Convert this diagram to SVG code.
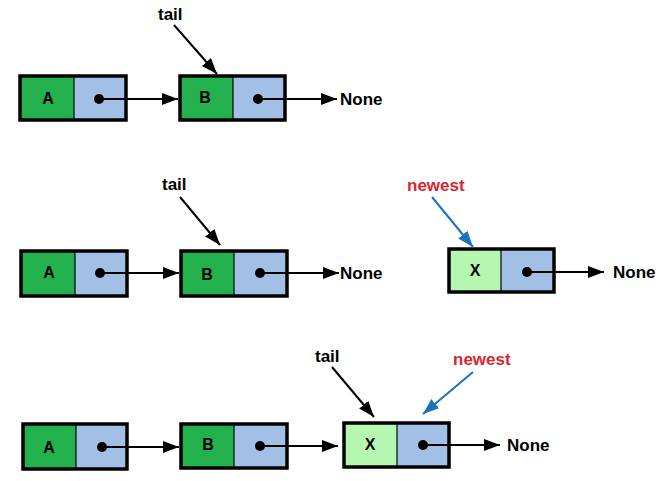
<svg xmlns="http://www.w3.org/2000/svg" width="671" height="481" viewBox="0 0 671 481">
<defs>
<style>
.box{stroke:#000;stroke-width:3.5;fill:none}
.dg{fill:#22b14c}
.lg{fill:#b5f7b0}
.lb{fill:#a2c0e5}
.div{stroke:#000;stroke-width:1.2}
.lbl{font-family:"Liberation Sans",Arial,sans-serif;font-weight:bold;font-size:17px;fill:#000}
.nl{font-size:16px}
.red{fill:#d9262e}
.ln{stroke:#000;stroke-width:2;fill:none}
.bl{stroke:#1a73bb;stroke-width:2;fill:none}
</style>
<marker id="ah" markerUnits="userSpaceOnUse" markerWidth="16" markerHeight="12" refX="16" refY="6" orient="auto"><path d="M0,0 L16,6 L0,12 Z" fill="#000"/></marker>
<marker id="ahb" markerUnits="userSpaceOnUse" markerWidth="16" markerHeight="12" refX="16" refY="6" orient="auto"><path d="M0,0 L16,6 L0,12 Z" fill="#1a73bb"/></marker>
</defs>
<rect width="671" height="481" fill="#fff"/>

<!-- Row 1 -->
<g id="r1A">
<rect class="dg" x="20" y="76" width="54" height="44"/><rect class="lb" x="74" y="76" width="52" height="44"/>
<line class="div" x1="74" y1="76" x2="74" y2="120"/><rect class="box" x="20" y="76" width="106" height="44"/>
<text class="lbl nl" x="48" y="104" text-anchor="middle">A</text><circle cx="99" cy="99" r="5"/>
</g>
<g id="r1B">
<rect class="dg" x="180" y="76" width="53" height="44"/><rect class="lb" x="233" y="76" width="52" height="44"/>
<line class="div" x1="233" y1="76" x2="233" y2="120"/><rect class="box" x="180" y="76" width="105" height="44"/>
<text class="lbl nl" x="205" y="103" text-anchor="middle">B</text><circle cx="258" cy="99" r="5"/>
</g>
<text id="r1tail" class="lbl" x="158" y="20">tail</text>
<text id="r1none" class="lbl" x="340" y="105">None</text>

<!-- Row 2 -->
<g id="r2A">
<rect class="dg" x="21" y="251" width="54" height="45"/><rect class="lb" x="75" y="251" width="52" height="45"/>
<line class="div" x1="75" y1="251" x2="75" y2="296"/><rect class="box" x="21" y="251" width="106" height="45"/>
<text class="lbl nl" x="49" y="278" text-anchor="middle">A</text><circle cx="100" cy="273" r="5"/>
</g>
<g id="r2B">
<rect class="dg" x="181" y="251" width="53" height="45"/><rect class="lb" x="234" y="251" width="53" height="45"/>
<line class="div" x1="234" y1="251" x2="234" y2="296"/><rect class="box" x="181" y="251" width="106" height="45"/>
<text class="lbl nl" x="207" y="280" text-anchor="middle">B</text><circle cx="260" cy="273" r="5"/>
</g>
<text id="r2tail" class="lbl" x="162" y="190">tail</text>
<text id="r2none" class="lbl" x="340" y="279">None</text>
<g id="r2X">
<rect class="lg" x="449" y="249" width="52" height="43"/><rect class="lb" x="501" y="249" width="53" height="43"/>
<line class="div" x1="501" y1="249" x2="501" y2="292"/><rect class="box" x="449" y="249" width="105" height="43"/>
<text class="lbl nl" x="475" y="276" text-anchor="middle">X</text><circle cx="527" cy="272" r="5"/>
</g>
<text id="r2newest" class="lbl red" x="407" y="191">newest</text>
<text id="r2none2" class="lbl" x="613" y="278">None</text>

<!-- Row 3 -->
<g id="r3A">
<rect class="dg" x="23" y="424" width="53" height="45"/><rect class="lb" x="76" y="424" width="51" height="45"/>
<line class="div" x1="76" y1="424" x2="76" y2="469"/><rect class="box" x="23" y="424" width="104" height="45"/>
<text class="lbl nl" x="49" y="453" text-anchor="middle">A</text><circle cx="102" cy="447" r="5"/>
</g>
<g id="r3B">
<rect class="dg" x="181" y="424" width="53" height="44"/><rect class="lb" x="234" y="424" width="53" height="44"/>
<line class="div" x1="234" y1="424" x2="234" y2="468"/><rect class="box" x="181" y="424" width="106" height="44"/>
<text class="lbl nl" x="208" y="450" text-anchor="middle">B</text><circle cx="260" cy="446" r="5"/>
</g>
<g id="r3X">
<rect class="lg" x="344" y="423" width="53" height="44"/><rect class="lb" x="397" y="423" width="52" height="44"/>
<line class="div" x1="397" y1="423" x2="397" y2="467"/><rect class="box" x="344" y="423" width="105" height="44"/>
<text class="lbl nl" x="370" y="450" text-anchor="middle">X</text><circle cx="423" cy="445" r="5"/>
</g>
<text id="r3tail" class="lbl" x="315" y="362">tail</text>
<text id="r3newest" class="lbl red" x="453" y="365">newest</text>
<text id="r3none" class="lbl" x="507" y="451">None</text>

<g id="connectors">
<line class="ln" x1="99" y1="99" x2="178" y2="99" marker-end="url(#ah)"/>
<line class="ln" x1="258" y1="99" x2="337" y2="99" marker-end="url(#ah)"/>
<line class="ln" x1="174" y1="25" x2="217" y2="74" marker-end="url(#ah)"/>
<line class="ln" x1="100" y1="273" x2="179" y2="273" marker-end="url(#ah)"/>
<line class="ln" x1="260" y1="273" x2="339" y2="273" marker-end="url(#ah)"/>
<line class="ln" x1="180" y1="197" x2="220" y2="245" marker-end="url(#ah)"/>
<line class="ln" x1="527" y1="272" x2="604" y2="272" marker-end="url(#ah)"/>
<line class="bl" x1="432" y1="197" x2="473" y2="247" marker-end="url(#ahb)"/>
<line class="ln" x1="102" y1="447" x2="179" y2="447" marker-end="url(#ah)"/>
<line class="ln" x1="260" y1="446" x2="338" y2="446" marker-end="url(#ah)"/>
<line class="ln" x1="423" y1="445" x2="500" y2="445" marker-end="url(#ah)"/>
<line class="ln" x1="332" y1="367" x2="374" y2="417" marker-end="url(#ah)"/>
<line class="bl" x1="473" y1="372" x2="423" y2="414" marker-end="url(#ahb)"/>
</g>
</svg>
